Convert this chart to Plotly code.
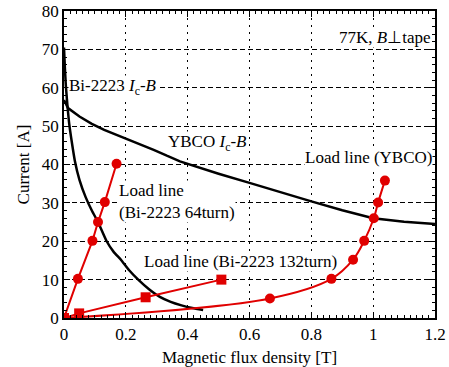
import plotly.graph_objects as go

# Ic-B curves
bi_ic_B = [0.0, 0.003, 0.006, 0.011, 0.017, 0.024, 0.035, 0.05, 0.07, 0.09, 0.11, 0.138, 0.16, 0.186, 0.21, 0.24, 0.275, 0.31, 0.345, 0.38, 0.415, 0.45]
bi_ic_I = [70.5, 65.0, 60.5, 55.5, 50.5, 46.5, 41.0, 36.0, 31.5, 28.0, 25.0, 20.0, 17.3, 15.0, 12.5, 10.0, 7.5, 5.5, 4.2, 3.3, 2.6, 2.1]

ybco_ic_B = [0.0, 0.013, 0.05, 0.09, 0.13, 0.2, 0.29, 0.375, 0.45, 0.5, 0.6, 0.7, 0.8, 0.9, 1.0, 1.1, 1.2]
ybco_ic_I = [56.8, 54.7, 52.5, 50.6, 49.0, 46.8, 43.8, 40.8, 38.8, 37.6, 35.2, 32.7, 30.4, 28.1, 26.0, 25.1, 24.5]

# Load lines
ll64_B = [0.0, 0.045, 0.092, 0.110, 0.132, 0.170]
ll64_I = [0.0, 10.2, 20.1, 25.0, 30.2, 40.2]

ll132_B = [0.0, 0.049, 0.264, 0.509]
ll132_I = [0.0, 1.2, 5.4, 10.0]

llybco_B = [0.0, 0.666, 0.865, 0.935, 0.971, 1.002, 1.016, 1.038]
llybco_I = [0.0, 5.1, 10.2, 15.2, 20.1, 26.0, 30.1, 35.8]

x_ticks = [0, 0.2, 0.4, 0.6, 0.8, 1, 1.2]
y_ticks = [0, 10, 20, 30, 40, 50, 60, 70, 80]

RED = "#e00000"
FONT = "Liberation Serif"
FS = 17

fig = go.Figure()
fig.add_trace(go.Scatter(x=bi_ic_B, y=bi_ic_I, mode="lines",
                         line=dict(color="black", width=2.5, shape="spline", smoothing=0.5)))
fig.add_trace(go.Scatter(x=ybco_ic_B, y=ybco_ic_I, mode="lines",
                         line=dict(color="black", width=2.5)))
fig.add_trace(go.Scatter(x=llybco_B, y=llybco_I, mode="lines+markers",
                         line=dict(color=RED, width=2, shape="spline", smoothing=1),
                         marker=dict(symbol="circle", size=10, color=RED)))
fig.add_trace(go.Scatter(x=ll64_B, y=ll64_I, mode="lines+markers",
                         line=dict(color=RED, width=2),
                         marker=dict(symbol="circle", size=10, color=RED)))
fig.add_trace(go.Scatter(x=ll132_B, y=ll132_I, mode="lines+markers",
                         line=dict(color=RED, width=2),
                         marker=dict(symbol="square", size=10, color=RED)))

ann_font = dict(family=FONT, size=FS, color="black")
annotations = [
    dict(x=0.012, y=60.2, text="Bi-2223 <i>I</i><sub>c</sub>-<i>B</i>", xanchor="left"),
    dict(x=0.332, y=45.6, text="YBCO <i>I</i><sub>c</sub>-<i>B</i>", xanchor="left"),
    dict(x=1.193, y=41.7, text="Load line (YBCO)", xanchor="right"),
    dict(x=0.174, y=30.3, text="Load line<br>(Bi-2223 64turn)", xanchor="left", align="left"),
    dict(x=0.255, y=14.7, text="Load line (Bi-2223 132turn)", xanchor="left"),
    dict(x=1.19, y=73.0, text="77K, <i>B</i>\u22a5tape", xanchor="right"),
]
for a in annotations:
    fig.add_annotation(x=a["x"], y=a["y"], text=a["text"], xanchor=a["xanchor"],
                       yanchor="middle", align=a.get("align", "center"),
                       showarrow=False, font=ann_font, bgcolor="white",
                       borderpad=0)

axis_common = dict(
    showline=True, linecolor="black", linewidth=1.5, mirror="ticks",
    ticks="inside", ticklen=6, tickcolor="black", tickwidth=1,
    showgrid=True, gridcolor="black", gridwidth=1,
    zeroline=False, automargin=False,
    tickfont=dict(family=FONT, size=FS, color="black"),
)

fig.update_xaxes(range=[0, 1.2], tickvals=x_ticks, ticktext=[str(v) for v in x_ticks],
                 griddash="2px,5px",
                 minor=dict(dtick=0.02, ticks="inside", ticklen=3, tickcolor="black", showgrid=False),
                 title=dict(text="Magnetic flux density [T]", font=dict(family=FONT, size=FS, color="black"),
                            standoff=9),
                 **axis_common)
fig.update_yaxes(range=[0, 80], tickvals=y_ticks,
                 griddash="5px,3px",
                 minor=dict(dtick=2, ticks="inside", ticklen=3, tickcolor="black", showgrid=False),
                 title=dict(text="Current [A]", font=dict(family=FONT, size=FS, color="black"),
                            standoff=8),
                 **axis_common)

fig.update_layout(
    width=449, height=367,
    margin=dict(l=64, r=14, t=11, b=49),
    plot_bgcolor="white", paper_bgcolor="white",
    showlegend=False,
    hovermode=False,
    font=dict(family=FONT, size=FS, color="black"),
)

fig.write_html("out.html",
               config={"displayModeBar": False},
               post_script="document.body.style.margin='0';document.body.style.overflow='hidden';")
